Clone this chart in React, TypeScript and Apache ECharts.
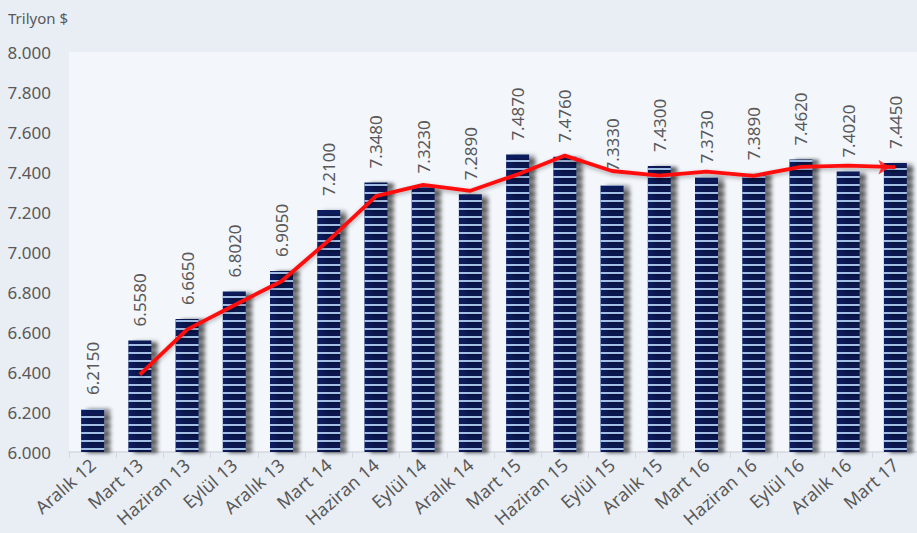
import React, { useEffect, useRef } from "react";
import * as echarts from "echarts";

const categories = [
  "Aralık 12", "Mart 13", "Haziran 13", "Eylül 13", "Aralık 13", "Mart 14",
  "Haziran 14", "Eylül 14", "Aralık 14", "Mart 15", "Haziran 15", "Eylül 15",
  "Aralık 15", "Mart 16", "Haziran 16", "Eylül 16", "Aralık 16", "Mart 17",
];
const barValues = [
  6.215, 6.558, 6.665, 6.802, 6.905, 7.21, 7.348, 7.323, 7.289, 7.487, 7.476,
  7.333, 7.43, 7.373, 7.389, 7.462, 7.402, 7.445,
];
const trendValues = [
  null, 6.387, 6.612, 6.734, 6.854, 7.058, 7.279, 7.336, 7.306, 7.388, 7.482,
  7.405, 7.382, 7.402, 7.381, 7.426, 7.432, 7.424,
];
const yAxisTitle = "Trilyon $";

const FONT = "'Noto Sans', 'Open Sans', sans-serif";
const GRAY = "#595959";

export default function App() {
  const ref = useRef<HTMLDivElement>(null);
  useEffect(() => {
    if (!ref.current) return;
    const chart = echarts.init(ref.current, null, { renderer: "svg" });
    const lastIdx = trendValues.length - 1;
    chart.setOption({
      animation: false,
      backgroundColor: "#e9eef5",
      textStyle: { fontFamily: FONT },
      graphic: [
        {
          type: "text",
          left: 8,
          top: 10,
          style: { text: yAxisTitle, fill: GRAY, fontSize: 15, fontFamily: FONT },
        },
      ],
      grid: {
        left: 69,
        top: 52,
        bottom: 81,
        width: 850,
        show: true,
        backgroundColor: "#f3f6fb",
        borderWidth: 0,
        containLabel: false,
        outerBoundsMode: "none",
      },
      xAxis: {
        type: "category",
        data: categories,
        boundaryGap: true,
        axisLine: { lineStyle: { color: "#d4d8de", width: 1.5 } },
        axisTick: { show: true, length: 6, lineStyle: { color: "#d4d8de" } },
        axisLabel: {
          rotate: 41,
          color: GRAY,
          fontSize: 18,
          fontFamily: FONT,
          margin: 10,
          interval: 0,
        },
      },
      yAxis: {
        type: "value",
        min: 6,
        max: 8,
        interval: 0.2,
        splitLine: { show: false },
        axisLine: { show: false },
        axisTick: { show: false },
        axisLabel: {
          color: GRAY,
          fontSize: 17,
          fontFamily: FONT,
          margin: 18,
          formatter: (v: number) => v.toFixed(3),
        },
      },
      series: [
        {
          type: "bar",
          data: barValues,
          barWidth: 23,
          itemStyle: {
            color: "#0b1f5e",
            shadowColor: "rgba(0,0,0,0.4)",
            shadowBlur: 4,
            shadowOffsetX: 6,
            shadowOffsetY: 1,
            decal: {
              symbol: "rect",
              symbolSize: 1,
              color: "#a4bfe6",
              dashArrayX: [1, 0],
              dashArrayY: [1.6, 5.1],
              rotation: 0,
            },
          },
          label: {
            show: true,
            position: "top",
            rotate: 90,
            align: "left",
            verticalAlign: "middle",
            distance: 14,
            color: GRAY,
            fontSize: 17,
            fontFamily: FONT,
            formatter: (p: any) => Number(p.value).toFixed(4),
          },
          z: 2,
        },
        {
          type: "line",
          data: trendValues,
          symbol: "none",
          lineStyle: {
            color: "#ff1010",
            width: 3.8,
            shadowColor: "rgba(0,0,0,0.3)",
            shadowBlur: 4,
            shadowOffsetY: 2,
          },
          z: 5,
        },
        {
          type: "scatter",
          data: trendValues.map((v, i) => (i === lastIdx ? v : null)),
          symbol: "arrow",
          symbolSize: [11, 12],
          symbolRotate: -90,
          symbolOffset: [-5, 0],
          itemStyle: { color: "#ff1010" },
          z: 6,
        },
      ],
    });
    return () => chart.dispose();
  }, []);
  return (
    <div
      ref={ref}
      style={{ position: "fixed", left: 0, top: 0, width: 917, height: 533 }}
    />
  );
}
